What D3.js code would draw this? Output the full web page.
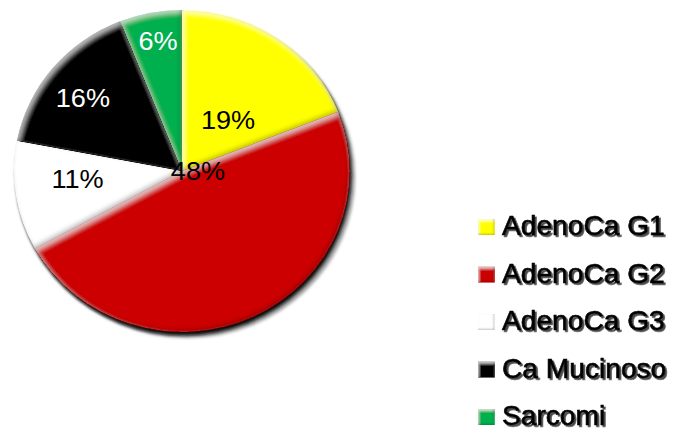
<!DOCTYPE html>
<html>
<head>
<meta charset="utf-8">
<script src="https://cdn.jsdelivr.net/npm/d3@7"></script>
<style>
  html, body { margin: 0; padding: 0; background: #fff; }
  svg { display: block; }
  text { font-family: "Liberation Sans", Arial, sans-serif; }
</style>
</head>
<body>
<svg id="chart" width="677" height="432"></svg>
<script>
// Tumour types and their share of cases (%)
const categories = ["AdenoCa G1", "AdenoCa G2", "AdenoCa G3", "Ca Mucinoso", "Sarcomi"];
const values = [19, 48, 11, 16, 6];
const colors = ["#FFFF00", "#CC0000", "#FFFFFF", "#030303", "#00B050"];
const labelColors = ["#000", "#000", "#000", "#fff", "#fff"];

// Label placement inside the pie: [fraction of radius, angle in degrees clockwise from 12 o'clock]
const labelPlacement = [[0.42, 40.8], [0.095, 90], [0.624, 265.4], [0.746, 307.7], [0.823, 350]];

const R = 161;          // pie radius (vertical)
const sx = 1.043;       // horizontal stretch of the whole chart
const cx = 182, cy = 171;

const svg = d3.select("#chart");
const defs = svg.append("defs");

// Bevel: light rim along upper edges, dark rim along lower edges
function bevel(id, blur, off, hiOp, loOp) {
  const f = defs.append("filter").attr("id", id)
    .attr("x", "-10%").attr("y", "-10%").attr("width", "120%").attr("height", "120%");
  f.append("feGaussianBlur").attr("in", "SourceAlpha").attr("stdDeviation", blur).attr("result", "blur");
  f.append("feOffset").attr("in", "blur").attr("dx", off * 0.6).attr("dy", off).attr("result", "offDown");
  f.append("feComposite").attr("in", "SourceAlpha").attr("in2", "offDown")
    .attr("operator", "arithmetic").attr("k2", 1).attr("k3", -1).attr("result", "topEdge");
  f.append("feOffset").attr("in", "blur").attr("dx", -off * 0.6).attr("dy", -off).attr("result", "offUp");
  f.append("feComposite").attr("in", "SourceAlpha").attr("in2", "offUp")
    .attr("operator", "arithmetic").attr("k2", 1).attr("k3", -1).attr("result", "botEdge");
  f.append("feFlood").attr("flood-color", "#fff").attr("flood-opacity", hiOp);
  f.append("feComposite").attr("in2", "topEdge").attr("operator", "in").attr("result", "hi");
  f.append("feFlood").attr("flood-color", "#000").attr("flood-opacity", loOp);
  f.append("feComposite").attr("in2", "botEdge").attr("operator", "in").attr("result", "lo");
  const m = f.append("feMerge");
  m.append("feMergeNode").attr("in", "SourceGraphic");
  m.append("feMergeNode").attr("in", "hi");
  m.append("feMergeNode").attr("in", "lo");
}
bevel("bevel", 2.2, 2.5, 0.5, 0.45);
bevel("bevelSmall", 1.2, 1.5, 0.6, 0.5);

const blurF = defs.append("filter").attr("id", "soft").attr("x", "-10%").attr("y", "-10%")
  .attr("width", "120%").attr("height", "120%");
blurF.append("feGaussianBlur").attr("stdDeviation", 1.5);

const textShadow = defs.append("filter").attr("id", "textShadow").attr("x", "-5%").attr("y", "-20%")
  .attr("width", "115%").attr("height", "150%");
textShadow.append("feDropShadow").attr("dx", 1.8).attr("dy", 1.8).attr("stdDeviation", 0.7)
  .attr("flood-color", "#333").attr("flood-opacity", 0.9);

// Pie
const pie = d3.pie().sort(null).value(d => d);
const arcs = pie(values);
const arc = d3.arc().innerRadius(0).outerRadius(R);
const full = d3.arc().innerRadius(0).outerRadius(R)({ startAngle: 0, endAngle: 2 * Math.PI });

const gPie = svg.append("g").attr("transform", `translate(${cx},${cy}) scale(${sx},1)`);

// drop shadow underneath
gPie.append("path").attr("d", full).attr("fill", "#a4a4a4")
  .attr("transform", "translate(5,6)").attr("filter", "url(#soft)");
gPie.append("path").attr("d", full).attr("fill", "#111")
  .attr("transform", "translate(1.5,3.5)").attr("filter", "url(#soft)");

gPie.selectAll("path.slice").data(arcs).join("path")
  .attr("class", "slice")
  .attr("d", arc)
  .attr("fill", (d, i) => colors[i])
  .attr("filter", "url(#bevel)");

gPie.selectAll("text.pct").data(arcs).join("text")
  .attr("class", "pct")
  .attr("transform", (d, i) => {
    const [f, deg] = labelPlacement[i];
    const [x, y] = d3.pointRadial(deg * Math.PI / 180, f * R);
    return `translate(${x},${y})`;
  })
  .attr("text-anchor", "middle")
  .attr("dy", "0.36em")
  .attr("font-size", 26)
  .attr("fill", (d, i) => labelColors[i])
  .text(d => d.data + "%");

// Legend
const yRow = d3.scalePoint().domain(categories).range([235, 425]);
const gLeg = svg.append("g").attr("transform", `translate(478,0) scale(${sx},1)`);
const rows = gLeg.selectAll("g.row").data(categories).join("g")
  .attr("class", "row")
  .attr("transform", d => `translate(0,${yRow(d)})`);

rows.append("rect")
  .attr("x", 0).attr("y", -16).attr("width", 16).attr("height", 16)
  .attr("fill", (d, i) => colors[i])
  .attr("filter", "url(#bevelSmall)");

rows.append("text")
  .attr("x", 23).attr("y", 0)
  .attr("font-size", 27)
  .attr("fill", "#000")
  .attr("stroke", "#000")
  .attr("stroke-width", 0.6)
  .attr("filter", "url(#textShadow)")
  .text(d => d);
</script>
</body>
</html>
